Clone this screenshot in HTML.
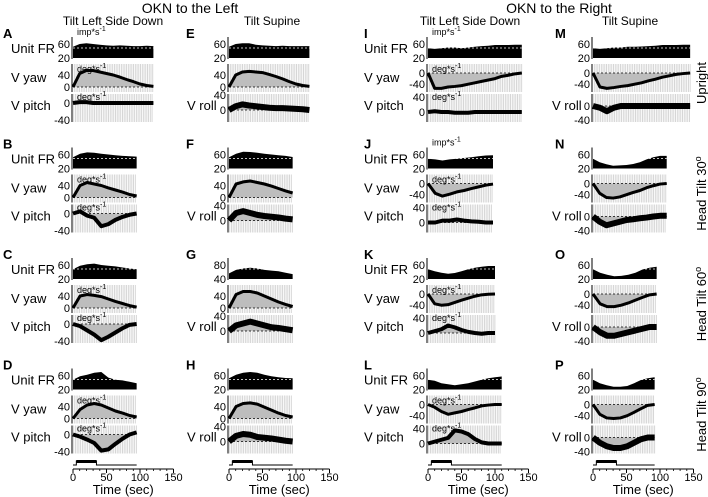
<!DOCTYPE html>
<html><head><meta charset="utf-8"><style>
html,body{margin:0;padding:0;background:#fff;}
svg{display:block;font-family:"Liberation Sans",Arial,sans-serif;}
</style></head><body>
<svg id="fig" width="708" height="497" viewBox="0 0 708 497">
<text x="190" y="13" font-size="14" text-anchor="middle">OKN to the Left</text>
<text x="559" y="13" font-size="14" text-anchor="middle">OKN to the Right</text>
<text x="113" y="25" font-size="12" text-anchor="middle">Tilt Left Side Down</text>
<text x="272" y="25" font-size="12" text-anchor="middle">Tilt Supine</text>
<text x="470" y="25" font-size="12" text-anchor="middle">Tilt Left Side Down</text>
<text x="630" y="25" font-size="12" text-anchor="middle">Tilt Supine</text>
<g id="plots"></g>
</svg>
<script>
// time axis
const xTicks = [0, 50, 100, 150];
const rowLabels = ["Upright", "Head Tilt 30", "Head Tilt 60", "Head Tilt 90"];
const panelLetters = ["A","B","C","D","E","F","G","H","I","J","K","L","M","N","O","P"];
const durations = [120,95,95,95, 120,95,95,95, 140,97,100,110, 145,110,95,92];
// firing rate envelope (imp/s) samples
const frA=[52,60,62,60,58,56,55,56,55,54,54,55,54];
const frB=[52,62,66,65,62,60,58,56,55,54];
const frC=[48,58,62,64,60,58,56,53,50,48];
const frD=[48,58,62,68,70,54,48,46,42,38];
const frE=[52,60,62,62,58,56,55,54,55,54,54,54,54];
const frF=[52,62,68,67,65,62,60,58,56,53];
const frG=[56,66,70,72,70,66,64,62,58,54];
const frH=[52,62,68,70,68,62,58,55,53,52];
const frI=[48,46,48,50,50,48,50,52,54,55,57,57,57,58,58];
const frJ=[48,46,43,46,48,50,52,55,57,58];
const frK=[48,42,38,35,37,42,48,52,55,57,57];
const frL=[48,45,38,35,32,35,38,43,48,52,55,57];
const frM=[48,46,48,50,50,52,52,53,54,55,57,57,57,58,58];
const frN=[48,38,32,28,29,30,33,38,46,52,56,56];
const frO=[48,38,32,28,29,32,38,47,52,55];
const frP=[48,38,32,28,28,30,38,47,52,55];
// V yaw (deg/s)
const yawA=[0,45,55,55,50,45,40,33,25,18,10,5,2];
const yawB=[0,40,50,45,40,32,25,18,10,5];
const yawC=[0,40,45,42,38,30,22,15,8,3];
const yawD=[0,30,45,50,45,35,25,18,10,5];
const yawE=[0,40,50,52,50,48,42,35,27,18,10,5,2];
const yawF=[0,45,52,55,50,45,38,30,22,15];
const yawG=[0,45,55,55,50,40,30,20,12,5];
const yawH=[0,40,50,52,48,38,28,18,10,5];
const yawI=[0,-55,-55,-50,-48,-45,-40,-35,-30,-25,-20,-12,-8,-3,0];
const yawJ=[0,-35,-45,-38,-30,-25,-18,-12,-6,-2];
const yawK=[0,-35,-40,-38,-30,-22,-15,-8,-3,-1,0];
const yawL=[0,-10,-25,-35,-30,-25,-18,-12,-5,-2,0,0];
const yawM=[0,-50,-55,-52,-48,-45,-40,-35,-28,-22,-15,-10,-5,-2,0];
const yawN=[0,-35,-50,-52,-48,-40,-32,-25,-15,-8,-2,0];
const yawO=[0,-35,-45,-45,-40,-32,-22,-12,-3,0];
const yawP=[0,-35,-48,-50,-48,-40,-28,-15,-3,0];
// V pitch / V roll (deg/s)
const thA=[0,2,2,0,0,0,0,0,0,0,0,0,0];
const thB=[0,5,-5,-10,-30,-25,-15,-8,-3,0];
const thC=[0,-5,-15,-25,-38,-30,-20,-10,-2,0];
const thD=[0,-5,-12,-20,-38,-35,-22,-10,0,5];
const thE=[0,10,15,12,10,8,6,5,5,4,3,2,0];
const thF=[0,20,25,20,15,12,10,8,5,3];
const thG=[0,15,20,25,20,15,10,8,5,2];
const thH=[0,15,20,18,12,10,8,5,2,0];
const thI=[0,2,0,0,-2,-2,-2,0,0,0,0,0,0,0,0];
const thJ=[0,0,5,5,8,5,3,2,0,0];
const thK=[0,5,10,20,15,8,3,0,-2,0,0];
const thL=[0,5,10,15,35,32,25,12,3,0,0,0];
const thM=[0,-5,-15,-5,0,0,0,0,0,0,0,0,0,0,0];
const thN=[0,-15,-25,-20,-15,-10,-8,-5,-3,0,2,2];
const thO=[0,-15,-25,-25,-20,-15,-10,-5,0,0];
const thP=[0,-15,-25,-30,-30,-25,-15,-5,0,0];
const stimOn=[5,35];

const FR=[frA,frB,frC,frD,frE,frF,frG,frH,frI,frJ,frK,frL,frM,frN,frO,frP];
const YAW=[yawA,yawB,yawC,yawD,yawE,yawF,yawG,yawH,yawI,yawJ,yawK,yawL,yawM,yawN,yawO,yawP];
const TH=[thA,thB,thC,thD,thE,thF,thG,thH,thI,thJ,thK,thL,thM,thN,thO,thP];

const NS="http://www.w3.org/2000/svg";
const root=document.getElementById('plots');
const colX0=[73,229,428,593];
const pxPerSec=0.67;
const rowStep=110.5;
function el(tag,attrs,parent,txt){const e=document.createElementNS(NS,tag);for(const k in attrs)e.setAttribute(k,attrs[k]);if(txt!==undefined)e.textContent=txt;(parent||root).appendChild(e);return e;}
function xs(c,t){return colX0[c]+t*pxPerSec;}

function unitLabel(g,x,y,base){const t=el('text',{x:x,y:y,'font-size':9},g);t.appendChild(document.createTextNode(base));el('tspan',{dy:-4,'font-size':7},t,'-1');return t;}

for(let c=0;c<4;c++){
  for(let r=0;r<4;r++){
    const i=c*4+r, oy=r*rowStep, x0=colX0[c];
    const g=el('g',{});
    
    
    const dur=durations[i];
    const left=c<2;
    const fr=FR[i], yaw=YAW[i], th=TH[i];
    const tOf=(k,n)=>k*dur/(n-1);
    const lx=[3,186,364,555][c];
    const L=el('text',{x:lx,y:38+oy,'font-size':13,'font-weight':'bold'},g,panelLetters[i]);
    
    
    // ---- FR ----
    const frLo=(i===6)?40:20, frHi=(i===6)?80:60;
    const yFR=v=>58-(v-frLo)*(14/(frHi-frLo));
    let pts=[[xs(c,0),58+oy]];
    fr.forEach((v,k)=>pts.push([xs(c,tOf(k,fr.length)),Math.max(36,yFR(v))+oy]));
    pts.push([xs(c,dur),58+oy]);
    const frPoly=el('polygon',{points:pts.map(p=>p.join(',')).join(' '),fill:'#000'},g);
    
    
    el('line',{x1:x0,x2:xs(c,dur),y1:48+oy,y2:48+oy,stroke:'#fff','stroke-width':0.8,'stroke-dasharray':'2,2'},g);
    el('line',{x1:x0-1,x2:x0-1,y1:37+oy,y2:59+oy,stroke:'#000','stroke-width':1},g);
    el('text',{x:x0-3,y:yFR(frHi)+oy+4,'font-size':11,'text-anchor':'end'},g,String(frHi));
    el('text',{x:x0-3,y:yFR(frLo)+oy+4,'font-size':11,'text-anchor':'end'},g,String(frLo));
    if(i===0||i===8||i===9){unitLabel(g,x0+4,35+oy,'imp*s');}
    // ---- yaw ----
    const y0yaw=left?87:73, sYaw=left?0.3:0.28;
    const yY=v=>y0yaw-v*sYaw+oy;
    for(let t=2;t<dur;t+=2.6){el('line',{x1:xs(c,t),x2:xs(c,t),y1:64+oy,y2:92+oy,stroke:'#d2d2d2','stroke-width':0.9},g);}
    let ap=[[xs(c,0),yY(0)]];
    yaw.forEach((v,k)=>ap.push([xs(c,tOf(k,yaw.length)),yY(v)]));
    ap.push([xs(c,dur),yY(0)]);
    el('polygon',{points:ap.map(p=>p.join(',')).join(' '),fill:'#bdbdbd'},g);
    el('line',{x1:x0,x2:xs(c,dur),y1:yY(0),y2:yY(0),stroke:'#000','stroke-width':0.7,'stroke-dasharray':'2,2'},g);
    const yl=el('polyline',{points:ap.slice(1,-1).map(p=>p.join(',')).join(' '),fill:'none',stroke:'#000','stroke-width':3,'stroke-linejoin':'round'},g);
    
    
    el('line',{x1:x0-1,x2:x0-1,y1:64+oy,y2:92+oy,stroke:'#000','stroke-width':1},g);
    if(left){el('text',{x:x0-3,y:yY(40)+4,'font-size':11,'text-anchor':'end'},g,'40');el('text',{x:x0-3,y:yY(0)+4,'font-size':11,'text-anchor':'end'},g,'0');}
    else{el('text',{x:x0-3,y:yY(0)+4,'font-size':11,'text-anchor':'end'},g,'0');el('text',{x:x0-3,y:yY(-40)+4,'font-size':11,'text-anchor':'end'},g,'-40');}
    if(c===0||c===2){unitLabel(g,x0+4,72+oy,'deg*s');}
    // ---- third ----
    let y0t,sT,labs;
    if(c===0){y0t=103;sT=0.425;labs=[0,-40];}
    else if(c===1){y0t=110;sT=0.375;labs=[40,0];}
    else if(c===2){y0t=112;sT=0.375;labs=[40,0];}
    else {y0t=106;sT=0.35;labs=[0,-40];}
    const yT=v=>y0t-v*sT+oy;
    for(let t=1;t<dur;t+=2.6){el('line',{x1:xs(c,t),x2:xs(c,t),y1:94+oy,y2:122+oy,stroke:'#d2d2d2','stroke-width':0.9},g);}
    let tp=[[xs(c,0),yT(0)]];
    th.forEach((v,k)=>tp.push([xs(c,tOf(k,th.length)),yT(v)]));
    tp.push([xs(c,dur),yT(0)]);
    el('polygon',{points:tp.map(p=>p.join(',')).join(' '),fill:'#bdbdbd'},g);
    el('line',{x1:x0,x2:xs(c,dur),y1:yT(0),y2:yT(0),stroke:'#000','stroke-width':0.7,'stroke-dasharray':'2,2'},g);
    const tl=el('polyline',{points:tp.slice(1,-1).map(p=>p.join(',')).join(' '),fill:'none',stroke:'#000','stroke-width':(c%2===1)?6:4,'stroke-linejoin':'round'},g);
    
    
    el('line',{x1:x0-1,x2:x0-1,y1:94+oy,y2:122+oy,stroke:'#000','stroke-width':1},g);
    labs.forEach(v=>el('text',{x:x0-3,y:yT(v)+4,'font-size':11,'text-anchor':'end'},g,String(v)));
    if(c===0||c===2){unitLabel(g,x0+4,100+oy,'deg*s');}
    if(c===0||c===2){
      const bx=c===0?11:364;
      el('text',{x:bx,y:53+oy,'font-size':13},g,'Unit FR');
      el('text',{x:bx,y:82+oy,'font-size':13},g,'V yaw');
      el('text',{x:bx,y:110+oy,'font-size':13},g,'V pitch');
    } else {
      el('text',{x:(c===1?187:552),y:110+oy,'font-size':13},g,'V roll');
    }
  }
  const x0=colX0[c];
  const ga=el('g',{});
  
  
  const dEnd=durations[c*4+3];
  el('polyline',{points:[[x0,465],[xs(c,stimOn[0]),465],[xs(c,stimOn[0]),461],[xs(c,stimOn[1]),461],[xs(c,stimOn[1]),465],[xs(c,dEnd),465]].map(p=>p.join(',')).join(' '),fill:'none',stroke:'#000','stroke-width':1},ga);
  el('rect',{x:xs(c,stimOn[0]),y:460,width:(stimOn[1]-stimOn[0])*pxPerSec,height:3,fill:'#000'},ga);
  el('line',{x1:x0,x2:xs(c,150),y1:469,y2:469,stroke:'#000','stroke-width':1},ga);
  for(let t=0;t<=150;t+=10){el('line',{x1:xs(c,t),x2:xs(c,t),y1:469,y2:471,stroke:'#000','stroke-width':0.8},ga);}
  xTicks.forEach(t=>{
    el('line',{x1:xs(c,t),x2:xs(c,t),y1:469,y2:473,stroke:'#000','stroke-width':1},ga);
    el('text',{x:xs(c,t),y:481,'font-size':11,'text-anchor':'middle'},ga,String(t));
  });
  el('text',{x:xs(c,75),y:494,'font-size':13,'text-anchor':'middle'},ga,'Time (sec)');
}
rowLabels.forEach((s,r)=>{
  const cy=83+r*rowStep;
  const t=el('text',{x:0,y:0,'font-size':13,'text-anchor':'middle',transform:'translate(706,'+cy+') rotate(-90)'});
  
  
  t.appendChild(document.createTextNode(s));
  if(r>0){el('tspan',{dy:-5,'font-size':9},t,'o');}
});
</script>
</body></html>
